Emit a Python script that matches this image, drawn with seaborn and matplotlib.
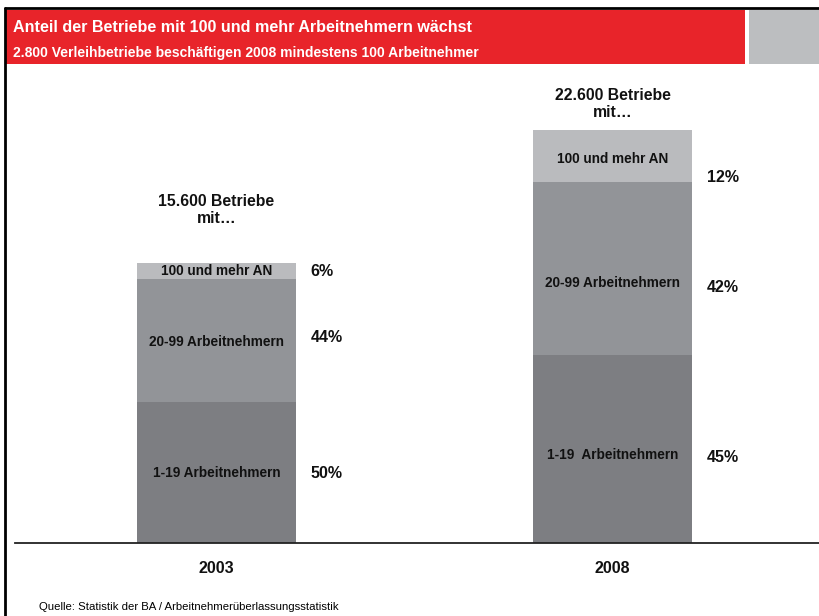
import matplotlib
matplotlib.use("Agg")
import matplotlib.pyplot as plt
from matplotlib import font_manager
from matplotlib.patches import Rectangle
from matplotlib.lines import Line2D
import seaborn as sns
import pandas as pd

# ---- data (thousand Betriebe) ----
years = ["2003", "2008"]
total_labels = ["15.600 Betriebe\nmit…", "22.600 Betriebe\nmit…"]
seg_small = [7.85, 10.45]     # 1-19 Arbeitnehmern
seg_mid = [6.85, 9.65]        # 20-99 Arbeitnehmern
seg_large = [0.90, 2.90]      # 100 und mehr AN
pct_small = ["50%", "45%"]
pct_mid = ["44%", "42%"]
pct_large = ["6%", "12%"]
names_small = ["1-19 Arbeitnehmern", "1-19  Arbeitnehmern"]
names_mid = ["20-99 Arbeitnehmern", "20-99 Arbeitnehmern"]
names_large = ["100 und mehr AN", "100 und mehr AN"]
title = "Anteil der Betriebe mit 100 und mehr Arbeitnehmern wächst"
subtitle = "2.800 Verleihbetriebe beschäftigen 2008 mindestens 100 Arbeitnehmer"
source = "Quelle: Statistik der BA / Arbeitnehmerüberlassungsstatistik"

c_small = "#7d7e82"
c_mid = "#929498"
c_large = "#babbbe"
red = "#e8242a"
gray_box = "#bcbec0"

sns.set_theme(style="white")
available = {f.name for f in font_manager.fontManager.ttflist}
base_font = "Liberation Sans" if "Liberation Sans" in available else "DejaVu Sans"
plt.rcParams["font.family"] = [base_font, "DejaVu Sans"]

W, H = 820, 616
fig = plt.figure(figsize=(W / 100, H / 100), dpi=100)

# frame / header
fig.add_artist(Line2D([5 / W, 5 / W], [0, 1 - 8 / H], color="black", lw=2, transform=fig.transFigure))
fig.add_artist(Line2D([5 / W, 1], [1 - 8 / H, 1 - 8 / H], color="black", lw=2, transform=fig.transFigure))
fig.add_artist(Rectangle((6 / W, 1 - 64 / H), (745 - 6) / W, 54 / H, color=red, transform=fig.transFigure, lw=0))
fig.add_artist(Rectangle((749 / W, 1 - 64 / H), (820 - 749) / W, 54 / H, color=gray_box, transform=fig.transFigure, lw=0))
fig.text(13 / W, 1 - 27 / H, title, color="white", fontsize=11.6, fontweight="bold",
         va="center", ha="left")
fig.text(13 / W, 1 - 53.5 / H, subtitle, color="white", fontsize=10, fontweight="bold",
         va="center", ha="left")
fig.text(39 / W, 1 - 607 / H, source, color="black", fontsize=8.2,
         va="center", ha="left")

# axes
ax_left, ax_right = 15, 820
ax_bottom, ax_top = 543, 70
ax = fig.add_axes([ax_left / W, 1 - ax_bottom / H, (ax_right - ax_left) / W, (ax_bottom - ax_top) / H])

df = pd.DataFrame({"year": years, "small": seg_small, "mid": seg_mid, "large": seg_large})
df["cum_mid"] = df["small"] + df["mid"]
df["cum_all"] = df["cum_mid"] + df["large"]

bw = 0.4
for col, color in [("cum_all", c_large), ("cum_mid", c_mid), ("small", c_small)]:
    sns.barplot(data=df, x="year", y=col, color=color, width=bw, ax=ax,
                saturation=1, linewidth=0, order=years)

px_per_unit = 280 / 15.6
ax.set_ylim(0, (ax_bottom - ax_top) / px_per_unit)
px_per_x = 396
ax.set_xlim(-(216.5 - ax_left) / px_per_x, (ax_right - 216.5) / px_per_x)

for s in ["top", "right", "left"]:
    ax.spines[s].set_visible(False)
ax.spines["bottom"].set_color("#222222")
ax.spines["bottom"].set_linewidth(1.3)
ax.set_xlabel("")
ax.set_ylabel("")
ax.set_yticks([])
ax.tick_params(axis="x", length=0, pad=13)
for t in ax.get_xticklabels():
    t.set_fontweight("bold")
    t.set_fontsize(11.5)
    t.set_color("#111111")

# offsets (data units) for label placement
name_off = [[0.05, 0.1, 0.0], [0.33, 0.78, 0.17]]
pct_off = [[0.05, -0.17, 0.0], [0.45, 1.06, 1.17]]
head_off = [2.95, 1.45]
pct_x = 0.238

for i in range(len(years)):
    bounds = [0, seg_small[i], seg_small[i] + seg_mid[i], seg_small[i] + seg_mid[i] + seg_large[i]]
    names = [names_small[i], names_mid[i], names_large[i]]
    pcts = [pct_small[i], pct_mid[i], pct_large[i]]
    for k in range(3):
        mid = (bounds[k] + bounds[k + 1]) / 2
        ax.text(i, mid - name_off[i][k], names[k], ha="center", va="center",
                fontsize=9.8, fontweight="bold", color="#111111")
        ax.text(i + pct_x, mid - pct_off[i][k], pcts[k], ha="left", va="center",
                fontsize=11.5, fontweight="bold", color="#111111")
    ax.text(i, bounds[3] + head_off[i], total_labels[i], ha="center", va="center",
            fontsize=11.3, fontweight="bold", color="#111111", linespacing=1.15)

fig.savefig("out.png", dpi=100)
